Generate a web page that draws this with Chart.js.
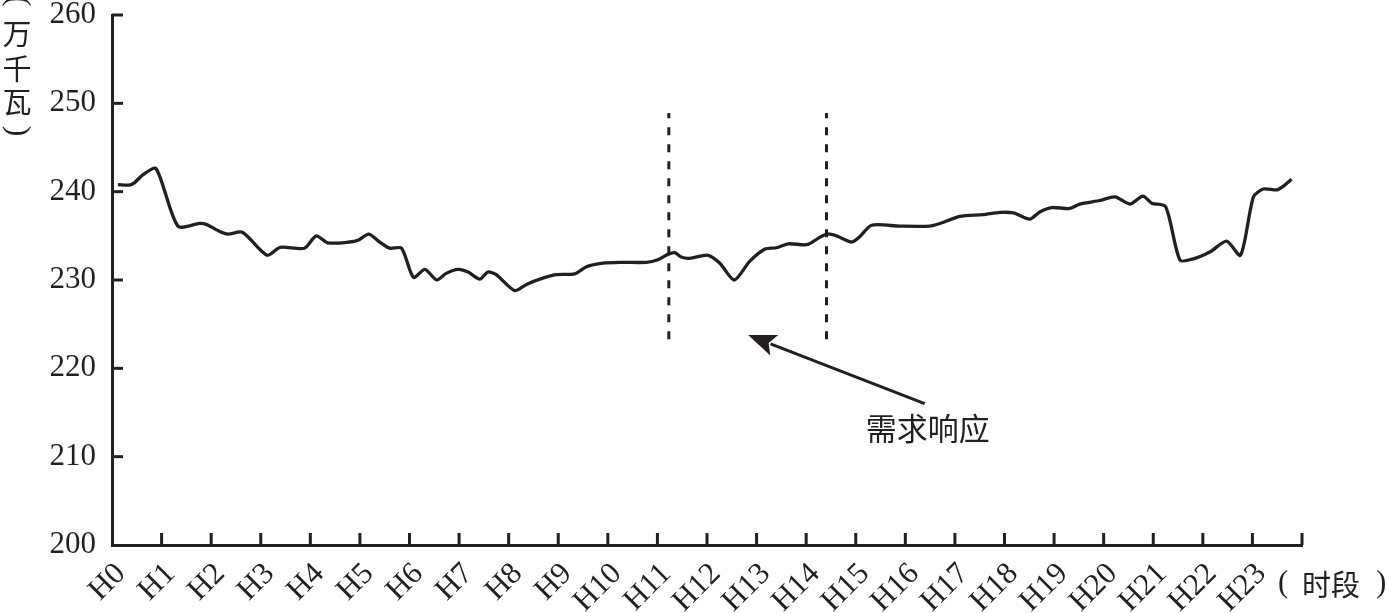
<!DOCTYPE html>
<html>
<head>
<meta charset="utf-8">
<script src="https://cdn.jsdelivr.net/npm/chart.js@4.4.1/dist/chart.umd.min.js"></script>
<style>
html,body{margin:0;padding:0;background:#fff;}
#wrap{width:1388px;height:613px;position:relative;}
</style>
</head>
<body>
<div id="wrap"><canvas id="c" width="1388" height="613"></canvas></div>
<script>
// ---- data ----
const hourLabels = ['H0','H1','H2','H3','H4','H5','H6','H7','H8','H9','H10','H11','H12','H13','H14','H15','H16','H17','H18','H19','H20','H21','H22','H23'];
const yTicks = [200, 210, 220, 230, 240, 250, 260];
const times = [0.12,0.35,0.45,0.62,0.89,1.33,1.77,1.90,2.17,2.34,2.63,3.13,3.39,3.88,4.12,4.35,4.79,4.96,5.18,5.40,5.60,5.84,
  6.08,6.31,6.55,6.74,6.98,7.18,7.42,7.58,7.75,8.12,8.36,8.63,8.96,9.33,9.57,9.90,10.24,10.78,11.01,11.21,11.35,11.48,11.65,
  12.02,12.26,12.55,12.86,13.17,13.40,13.64,14.01,14.21,14.41,14.61,14.92,15.08,15.32,15.89,16.49,16.70,17.10,17.57,17.91,
  18.18,18.51,18.71,18.95,19.32,19.52,19.92,20.23,20.53,20.79,20.97,21.25,21.54,21.81,22.15,22.48,22.76,23.02,23.22,23.49,23.62,23.79];
const loads = [240.8,240.75,241.0,241.9,242.6,236.1,236.4,236.3,235.5,235.2,235.4,232.8,233.7,233.6,235.0,234.2,234.3,234.5,235.2,234.3,233.6,233.6,
  230.3,231.2,230.0,230.75,231.2,230.9,230.1,230.9,230.6,228.8,229.5,230.1,230.6,230.7,231.5,231.9,232.0,232.0,232.3,232.9,233.1,232.6,232.45,
  232.8,231.9,230.0,232.1,233.5,233.65,234.1,234.0,234.6,235.2,235.0,234.3,234.9,236.2,236.1,236.1,236.4,237.2,237.4,237.65,
  237.6,236.9,237.7,238.2,238.1,238.6,239.0,239.4,238.6,239.5,238.7,238.3,232.25,232.4,233.2,234.4,232.8,239.4,240.3,240.2,240.6,241.4];
// demand response window (dashed markers)
const responseStart = 11.23;
const responseEnd = 14.41;
const markerRange = [223.3, 248.9];
// annotation arrow: tail -> tip, and label
const arrowTail = [16.39, 216.0];
const arrowTip = [12.83, 223.76];
const noteLabel = '需求响应';
const notePos = [16.45, 213.2];
const yTitleChars = ['万','千','瓦'];
const xTitle = '时段';

const INK = '#231f20';

const lineData = times.map((t, i) => ({x: t, y: loads[i]}));

const decor = {
  id: 'decor',
  afterDatasetsDraw(chart) {
    const {ctx, chartArea, scales} = chart;
    const xs = scales.x, ys = scales.y;
    ctx.save();
    ctx.strokeStyle = INK;
    ctx.fillStyle = INK;
    ctx.lineWidth = 3;
    ctx.lineCap = 'butt';
    // inward ticks
    yTicks.forEach(v => {
      if (v === 200) return;
      const py = ys.getPixelForValue(v);
      ctx.beginPath(); ctx.moveTo(chartArea.left, py); ctx.lineTo(chartArea.left + 11, py); ctx.stroke();
    });
    for (let h = 1; h <= 24; h++) {
      const px = xs.getPixelForValue(h);
      ctx.beginPath(); ctx.moveTo(px, chartArea.bottom); ctx.lineTo(px, chartArea.bottom - 12); ctx.stroke();
    }
    // x tick labels, rotated 45 degrees, ending just right of the tick
    ctx.font = '31px "Liberation Serif"';
    ctx.textAlign = 'right'; ctx.textBaseline = 'middle';
    hourLabels.forEach((lab, i) => {
      const px = xs.getPixelForValue(i);
      ctx.save();
      ctx.translate(px + 9, chartArea.bottom + 24);
      ctx.rotate(-Math.PI / 4);
      ctx.fillText(lab, 0, 0);
      ctx.restore();
    });
    // arrow
    const tx = xs.getPixelForValue(arrowTail[0]), ty = ys.getPixelForValue(arrowTail[1]);
    const hx = xs.getPixelForValue(arrowTip[0]), hy = ys.getPixelForValue(arrowTip[1]);
    const ang = Math.atan2(hy - ty, hx - tx);
    const headLen = 28, headW = 11;
    const bx = hx - headLen * Math.cos(ang), by = hy - headLen * Math.sin(ang);
    ctx.beginPath(); ctx.moveTo(tx, ty); ctx.lineTo(bx + 4*Math.cos(ang), by + 4*Math.sin(ang)); ctx.stroke();
    ctx.beginPath();
    ctx.moveTo(hx, hy);
    ctx.lineTo(bx + headW * Math.sin(ang), by - headW * Math.cos(ang));
    ctx.lineTo(bx + 6*Math.cos(ang), by + 6*Math.sin(ang));
    ctx.lineTo(bx - headW * Math.sin(ang), by + headW * Math.cos(ang));
    ctx.closePath(); ctx.fill();
    // note label
    ctx.font = '31px "Noto Sans CJK SC"';
    ctx.textAlign = 'center'; ctx.textBaseline = 'middle';
    ctx.fillText(noteLabel, xs.getPixelForValue(notePos[0]), ys.getPixelForValue(notePos[1]));
    // y title (vertical)
    ctx.font = '29px "Noto Sans CJK SC"';
    const yPos = [34, 69, 102];
    yTitleChars.forEach((c, i) => ctx.fillText(c, 17, yPos[i]));
    // rotated parentheses
    ctx.font = '32px "Liberation Serif"';
    [['(', 1], [')', 131]].forEach(([c, yy]) => {
      ctx.save(); ctx.translate(17, yy); ctx.rotate(Math.PI / 2);
      ctx.fillText(c, 0, 0); ctx.restore();
    });
    // x title with parentheses
    ctx.font = '29px "Noto Sans CJK SC"';
    ctx.textAlign = 'left';
    ctx.fillText(xTitle, 1302, 585);
    ctx.font = '31px "Liberation Serif"';
    ctx.fillText('(', 1278, 584);
    ctx.fillText(')', 1376, 584);
    ctx.restore();
  }
};

new Chart(document.getElementById('c'), {
  type: 'line',
  data: {
    datasets: [
      {data: lineData, borderColor: INK, borderWidth: 3.3, pointRadius: 0, tension: 0.25, fill: false},
      {data: [{x: responseStart, y: markerRange[0]}, {x: responseStart, y: markerRange[1]}], borderColor: INK, borderWidth: 3, borderDash: [8, 9], pointRadius: 0, tension: 0},
      {data: [{x: responseEnd, y: markerRange[0]}, {x: responseEnd, y: markerRange[1]}], borderColor: INK, borderWidth: 3, borderDash: [8, 9], pointRadius: 0, tension: 0}
    ]
  },
  options: {
    responsive: false,
    animation: false,
    devicePixelRatio: 1,
    layout: {padding: {top: 0, right: 86, left: 0, bottom: 0}},
    plugins: {legend: {display: false}, tooltip: {enabled: false}},
    scales: {
      x: {
        type: 'linear', min: 0, max: 24,
        afterFit: s => { s.height = 68; s.paddingLeft = 0; s.paddingRight = 0; },
        grid: {display: true, drawOnChartArea: false, drawTicks: false},
        border: {display: true, color: INK, width: 3},
        afterBuildTicks: s => { s.ticks = hourLabels.map((_, i) => ({value: i})).concat([{value: 24}]); },
        ticks: {display: false}
      },
      y: {
        min: 200, max: 260,
        afterFit: s => { s.width = 112; s.paddingTop = 15; s.paddingBottom = 0; },
        afterBuildTicks: s => { s.ticks = yTicks.map(v => ({value: v})); },
        grid: {display: true, drawOnChartArea: false, drawTicks: false},
        border: {display: true, color: INK, width: 3},
        ticks: {padding: 16, color: INK, font: {family: '"Liberation Serif"', size: 31}}
      }
    }
  },
  plugins: [decor]
});
</script>
</body>
</html>
